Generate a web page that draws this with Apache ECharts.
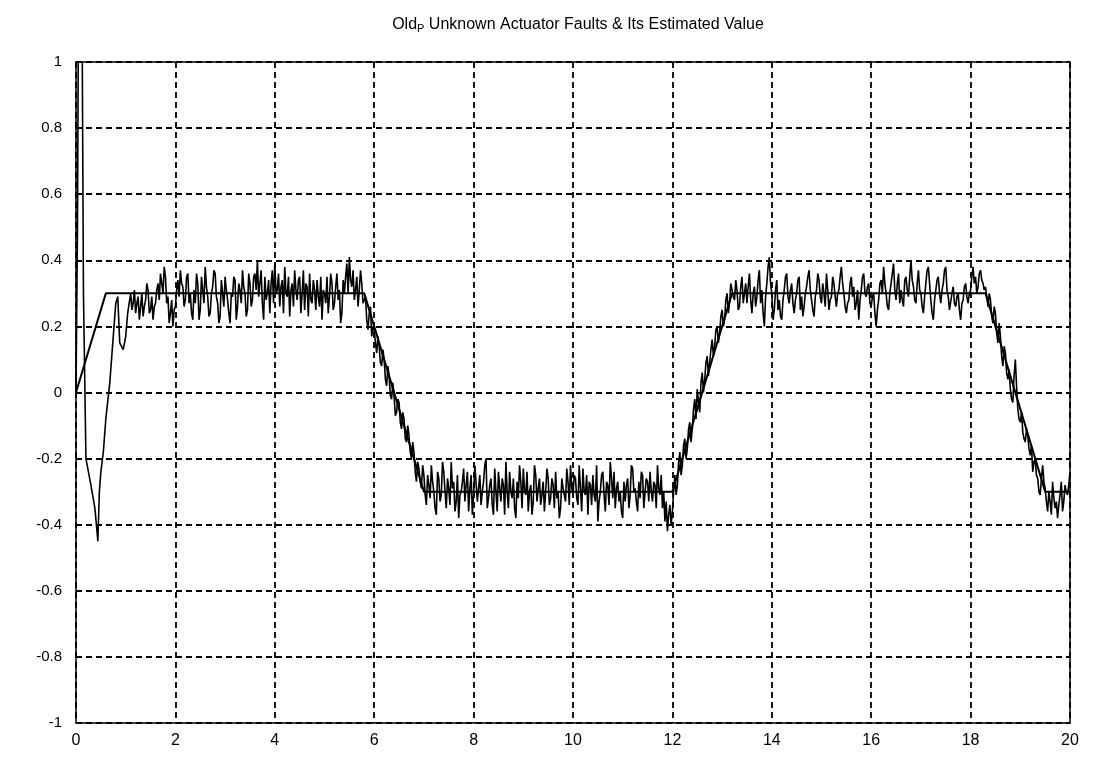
<!DOCTYPE html>
<html lang="en">
<head>
  <meta charset="UTF-8">
  <title>Old_P Unknown Actuator Faults</title>
  <style>
    html, body { margin: 0; padding: 0; background: #fff; }
    #main { width: 1093px; height: 759px; }
  </style>
  <script src="https://cdn.jsdelivr.net/npm/echarts@6/dist/echarts.min.js"></script>
</head>
<body>
  <div id="main"></div>
  <script>
    const faultT = [0, 0.6, 5.8, 7.0, 12.0, 13.2, 18.3, 19.5, 20];
    const faultV = [0, 0.3, 0.3, -0.3, -0.3, 0.3, 0.3, -0.3, -0.3];

    // start-up transient of the estimate (t, value)
    const startT = [0, 0.03, 0.05, 0.12, 0.15, 0.2, 0.3, 0.38, 0.44, 0.47, 0.5, 0.55, 0.6, 0.68, 0.74, 0.8, 0.84, 0.88, 0.95, 1.0, 1.04];
    const startV = [0, 0.5, 1.2, 1.2, 0.3, -0.2, -0.28, -0.35, -0.45, -0.3, -0.24, -0.18, -0.08, 0.03, 0.15, 0.27, 0.29, 0.15, 0.13, 0.17, 0.24];

    // estimate sampled every 0.05 s from t = 1.1 s
    const estStart = 1.1;
    const estStep = 0.05;
    const estV = [
      0.30,0.27,0.24,0.29,0.26,0.23,0.28,0.31,0.25,0.22,
      0.27,0.33,0.36,0.30,0.35,0.29,0.24,0.20,0.26,0.34,
      0.37,0.32,0.28,0.36,0.30,0.22,0.27,0.33,0.25,0.31,
      0.38,0.29,0.24,0.32,0.36,0.27,0.23,0.30,0.35,0.28,
      0.21,0.29,0.34,0.26,0.31,0.37,0.30,0.25,0.33,0.28,
      0.36,0.40,0.33,0.27,0.35,0.30,0.24,0.37,0.39,0.31,
      0.26,0.34,0.38,0.29,0.23,0.33,0.37,0.28,0.35,0.30,
      0.25,0.32,0.36,0.27,0.31,0.34,0.26,0.22,0.30,0.35,
      0.29,0.33,0.27,0.36,0.31,0.24,0.30,0.39,0.41,0.32,
      0.28,0.35,0.31,0.33,
      // ramp down 5.8 .. 7.0
      0.27,0.22,0.24,0.17,0.19,0.12,0.14,0.08,0.10,0.02,
      0.05,-0.02,-0.01,-0.06,-0.03,-0.11,-0.08,-0.15,-0.13,-0.20,
      -0.18,-0.27,-0.23,-0.29,-0.25,
      // flat -0.3, 7.05 .. 11.95
      -0.34,-0.28,-0.22,-0.30,-0.37,-0.26,-0.31,-0.24,-0.35,-0.29,
      -0.21,-0.27,-0.33,-0.38,-0.30,-0.23,-0.28,-0.36,-0.25,-0.31,
      -0.22,-0.29,-0.34,-0.27,-0.20,-0.32,-0.26,-0.37,-0.30,-0.24,
      -0.33,-0.28,-0.21,-0.35,-0.30,-0.26,-0.38,-0.32,-0.27,-0.23,
      -0.31,-0.36,-0.28,-0.33,-0.25,-0.29,-0.34,-0.27,-0.30,-0.26,
      -0.32,-0.28,-0.24,-0.30,-0.35,-0.29,-0.33,-0.27,-0.22,-0.31,
      -0.26,-0.34,-0.29,-0.23,-0.31,-0.37,-0.28,-0.25,-0.33,-0.39,
      -0.30,-0.24,-0.36,-0.28,-0.21,-0.32,-0.35,-0.27,-0.30,-0.38,
      -0.33,-0.26,-0.31,-0.23,-0.29,-0.36,-0.32,-0.25,-0.30,-0.27,
      -0.24,-0.33,-0.28,-0.22,-0.31,-0.35,-0.39,-0.42,-0.34,
      // ramp up 12.0 .. 13.15
      -0.36,-0.25,-0.28,-0.18,-0.22,-0.14,-0.17,-0.09,-0.11,-0.02,
      0.01,-0.06,0.06,0.04,0.11,0.09,0.16,0.14,0.20,0.18,
      0.25,0.22,0.30,0.27,
      // flat 0.3, 13.2 .. 18.25
      0.33,0.28,0.31,0.26,0.35,0.30,0.27,0.36,0.24,0.32,
      0.29,0.37,0.31,0.20,0.33,0.41,0.30,0.25,0.34,0.28,
      0.22,0.31,0.36,0.27,0.33,0.24,0.30,0.35,0.29,0.26,
      0.32,0.37,0.28,0.23,0.31,0.34,0.27,0.30,0.36,0.25,
      0.29,0.33,0.26,0.31,0.38,0.30,0.24,0.28,0.35,0.32,
      0.27,0.22,0.31,0.36,0.29,0.33,0.26,0.30,0.20,0.28,
      0.34,0.38,0.30,0.25,0.33,0.39,0.28,0.36,0.31,0.26,
      0.35,0.29,0.40,0.32,0.27,0.37,0.30,0.24,0.33,0.38,
      0.28,0.22,0.31,0.35,0.27,0.33,0.38,0.29,0.25,0.32,
      0.26,0.30,0.22,0.28,0.33,0.27,0.31,0.38,0.35,0.32,
      0.37,0.33,
      // ramp down 18.3 .. 19.5, then flat
      0.32,0.26,0.28,0.21,0.24,0.15,0.17,0.08,0.12,0.04,
      0.01,-0.03,0.10,-0.05,-0.09,-0.12,-0.15,-0.13,-0.19,-0.24,
      -0.20,-0.26,-0.31,-0.22,-0.29,-0.36,-0.33,-0.27,-0.35,-0.38,
      -0.31,-0.36,-0.28,-0.31,-0.24
    ];

    // in-between samples of the estimate (t = 1.125, 1.175, ...)
    const estMidV = [
      0.25,0.31,0.27,0.22,0.30,0.26,0.33,0.24,0.29,0.26,
      0.31,0.28,0.33,0.38,0.27,0.21,0.28,0.25,0.31,0.29,
      0.33,0.26,0.35,0.27,0.24,0.31,0.36,0.22,0.35,0.27,
      0.32,0.23,0.30,0.37,0.29,0.21,0.34,0.26,0.31,0.24,
      0.30,0.35,0.22,0.33,0.27,0.32,0.23,0.36,0.26,0.35,
      0.31,0.29,0.37,0.22,0.28,0.34,0.33,0.27,0.30,0.36,
      0.32,0.24,0.30,0.35,0.31,0.26,0.31,0.34,0.24,0.37,
      0.33,0.23,0.28,0.34,0.25,0.29,0.35,0.31,0.27,0.24,
      0.36,0.25,0.32,0.28,0.21,0.34,0.35,0.30,0.34,0.37,
      0.31,0.26,0.37,0.27,
      0.29,0.19,0.26,0.20,0.15,0.17,0.09,0.13,0.04,0.08,
      -0.01,0.03,-0.07,-0.02,-0.09,-0.06,-0.14,-0.10,-0.18,-0.15,
      -0.24,-0.21,-0.27,-0.22,-0.31,
      -0.25,-0.32,-0.27,-0.35,-0.24,-0.33,-0.21,-0.30,-0.26,-0.34,
      -0.29,-0.36,-0.25,-0.31,-0.27,-0.33,-0.24,-0.29,-0.37,-0.22,
      -0.33,-0.25,-0.30,-0.22,-0.35,-0.28,-0.34,-0.23,-0.36,-0.29,
      -0.26,-0.37,-0.30,-0.24,-0.32,-0.35,-0.27,-0.22,-0.35,-0.30,
      -0.24,-0.30,-0.37,-0.22,-0.33,-0.26,-0.31,-0.36,-0.23,-0.34,
      -0.26,-0.35,-0.32,-0.38,-0.26,-0.31,-0.23,-0.34,-0.29,-0.25,
      -0.32,-0.22,-0.36,-0.30,-0.25,-0.27,-0.34,-0.31,-0.22,-0.33,
      -0.25,-0.31,-0.27,-0.34,-0.26,-0.24,-0.29,-0.33,-0.36,-0.27,
      -0.28,-0.35,-0.22,-0.30,-0.33,-0.27,-0.24,-0.35,-0.26,-0.33,
      -0.30,-0.27,-0.35,-0.29,-0.25,-0.30,-0.33,-0.37,-0.40,
      -0.30,-0.31,-0.21,-0.25,-0.16,-0.20,-0.11,-0.15,-0.05,-0.08,
      -0.03,0.03,0.00,0.09,0.05,0.13,0.11,0.19,0.15,0.23,
      0.20,0.28,0.24,0.33,
      0.29,0.34,0.25,0.32,0.27,0.33,0.32,0.28,0.30,0.26,
      0.34,0.27,0.24,0.29,0.38,0.33,0.22,0.31,0.25,0.23,
      0.28,0.35,0.29,0.31,0.27,0.28,0.34,0.25,0.23,0.30,
      0.35,0.31,0.25,0.29,0.36,0.29,0.33,0.26,0.31,0.28,
      0.35,0.29,0.30,0.35,0.33,0.26,0.27,0.33,0.29,0.25,
      0.31,0.28,0.35,0.30,0.32,0.27,0.29,0.24,0.25,0.33,
      0.30,0.33,0.26,0.30,0.36,0.31,0.33,0.27,0.28,0.34,
      0.31,0.35,0.34,0.28,0.33,0.31,0.26,0.29,0.37,0.33,
      0.24,0.28,0.34,0.30,0.31,0.37,0.31,0.25,0.30,0.27,
      0.29,0.25,0.27,0.32,0.29,0.30,0.35,0.33,0.30,0.36,
      0.34,0.31,
      0.29,0.30,0.23,0.26,0.18,0.21,0.11,0.14,0.06,0.07,
      -0.02,0.05,0.02,-0.08,-0.06,-0.14,-0.11,-0.17,-0.16,-0.21,
      -0.25,-0.30,-0.26,-0.27,-0.33,-0.30,-0.37,-0.32,-0.33,-0.34,
      -0.27,-0.33,-0.30,-0.28
    ];

    const xTicks = { min: 0, max: 20, interval: 2 };
    const yTicks = { min: -1, max: 1, interval: 0.2 };

    const faultData = faultT.map((t, i) => [t, faultV[i]]);
    const estData = startT.map((t, i) => [t, startV[i]]);
    estV.forEach((v, i) => {
      const t = estStart + i * estStep;
      estData.push([+t.toFixed(3), v]);
      if (i < estMidV.length && i < estV.length - 1) {
        estData.push([+(t + estStep / 2).toFixed(3), estMidV[i]]);
      }
    });

    const font = 'Liberation Sans, Arial, sans-serif';
    const gridLine = { show: true, lineStyle: { color: '#000', width: 1.8, type: [6, 4] } };

    const chart = echarts.init(document.getElementById('main'));
    chart.setOption({
      animation: false,
      backgroundColor: '#fff',
      title: {
        text: 'Old{s|P} Unknown Actuator Faults & Its Estimated Value',
        left: 573,
        textAlign: 'center',
        top: 10,
        textStyle: {
          fontFamily: font,
          fontSize: 16,
          fontWeight: 'normal',
          color: '#000',
          rich: {
            s: { fontFamily: font, fontSize: 11, color: '#000', verticalAlign: 'bottom', padding: [8, 0, 0, 0] }
          }
        }
      },
      grid: {
        left: 76, right: 23, top: 62, bottom: 36,
        show: true, borderColor: '#000', borderWidth: 1.5
      },
      xAxis: {
        type: 'value',
        min: xTicks.min, max: xTicks.max, interval: xTicks.interval,
        axisLine: { show: false },
        axisTick: { show: false },
        splitLine: gridLine,
        axisLabel: { color: '#000', fontFamily: font, fontSize: 16, margin: 10 }
      },
      yAxis: {
        type: 'value',
        min: yTicks.min, max: yTicks.max, interval: yTicks.interval,
        axisLine: { show: false },
        axisTick: { show: false },
        splitLine: gridLine,
        axisLabel: { color: '#000', fontFamily: font, fontSize: 15, margin: 14 }
      },
      series: [
        {
          name: 'fault',
          type: 'line',
          data: faultData,
          showSymbol: false,
          lineStyle: { color: '#000', width: 2 }
        },
        {
          name: 'estimate',
          type: 'line',
          data: estData,
          showSymbol: false,
          clip: true,
          lineStyle: { color: '#000', width: 1.6 }
        }
      ]
    });
  </script>
</body>
</html>
